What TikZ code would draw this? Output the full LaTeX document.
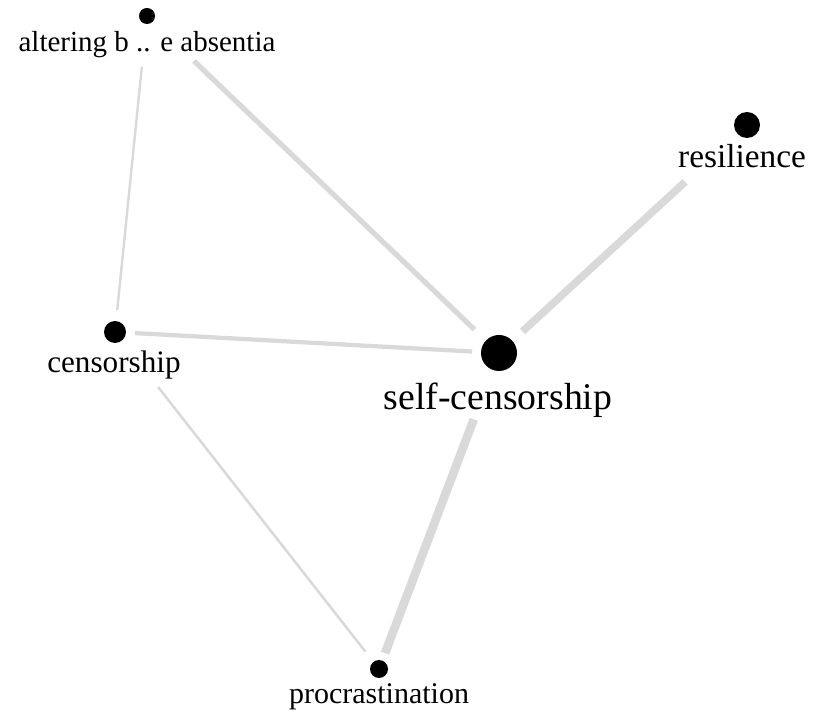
\documentclass[tikz,border=0pt]{standalone}
\usepackage{fontspec}
\setmainfont{Liberation Serif}
\begin{document}
\begin{tikzpicture}[x=0.75pt,y=-0.75pt,
  dot/.style={circle,fill=black,draw=none,inner sep=0pt,minimum size=#1},
  lbl/.style={anchor=base,inner sep=0pt,font=\fontsize{#1}{#1}\selectfont},
  edge/.style={draw=black!15,line width=#1}]
\useasboundingbox (0,0) rectangle (815,716);
% dots
\node[dot=12pt]   (alt)  at (147,16)  {};
\node[dot=19.5pt] (res)  at (747,125) {};
\node[dot=16.5pt] (cens) at (115,332) {};
\node[dot=27pt]   (self) at (499,353) {};
\node[dot=13.5pt] (proc) at (379,669) {};
% labels
\node[lbl=21.75pt] (altl)  at (147,52)  {altering b .. e absentia};
\node[lbl=25pt]    (resl)  at (742,168) {resilience};
\node[lbl=23.4pt]  (censl) at (114,373) {censorship};
\node[lbl=28.3pt]  (selfl) at (498,410) {self-censorship};
\node[lbl=22.5pt]  (procl) at (379,704) {procrastination};
% edges
\draw[edge=3.9pt, shorten <=48.75pt, shorten >=25.5pt] (alt.center) -- (self.center);
\draw[edge=1.8pt, shorten <=38.25pt, shorten >=16.5pt] (alt.center) -- (cens.center);
\draw[edge=5.7pt, shorten <=63pt, shorten >=24pt] (res.center) -- (self.center);
\draw[edge=3.2pt, shorten <=15pt, shorten >=20.25pt] (cens.center) -- (self.center);
\draw[edge=1.9pt, shorten <=52.5pt, shorten >=16.5pt] (cens.center) -- (proc.center);
\draw[edge=6.5pt, shorten <=53.25pt, shorten >=12.75pt] (self.center) -- (proc.center);
\end{tikzpicture}
\end{document}
